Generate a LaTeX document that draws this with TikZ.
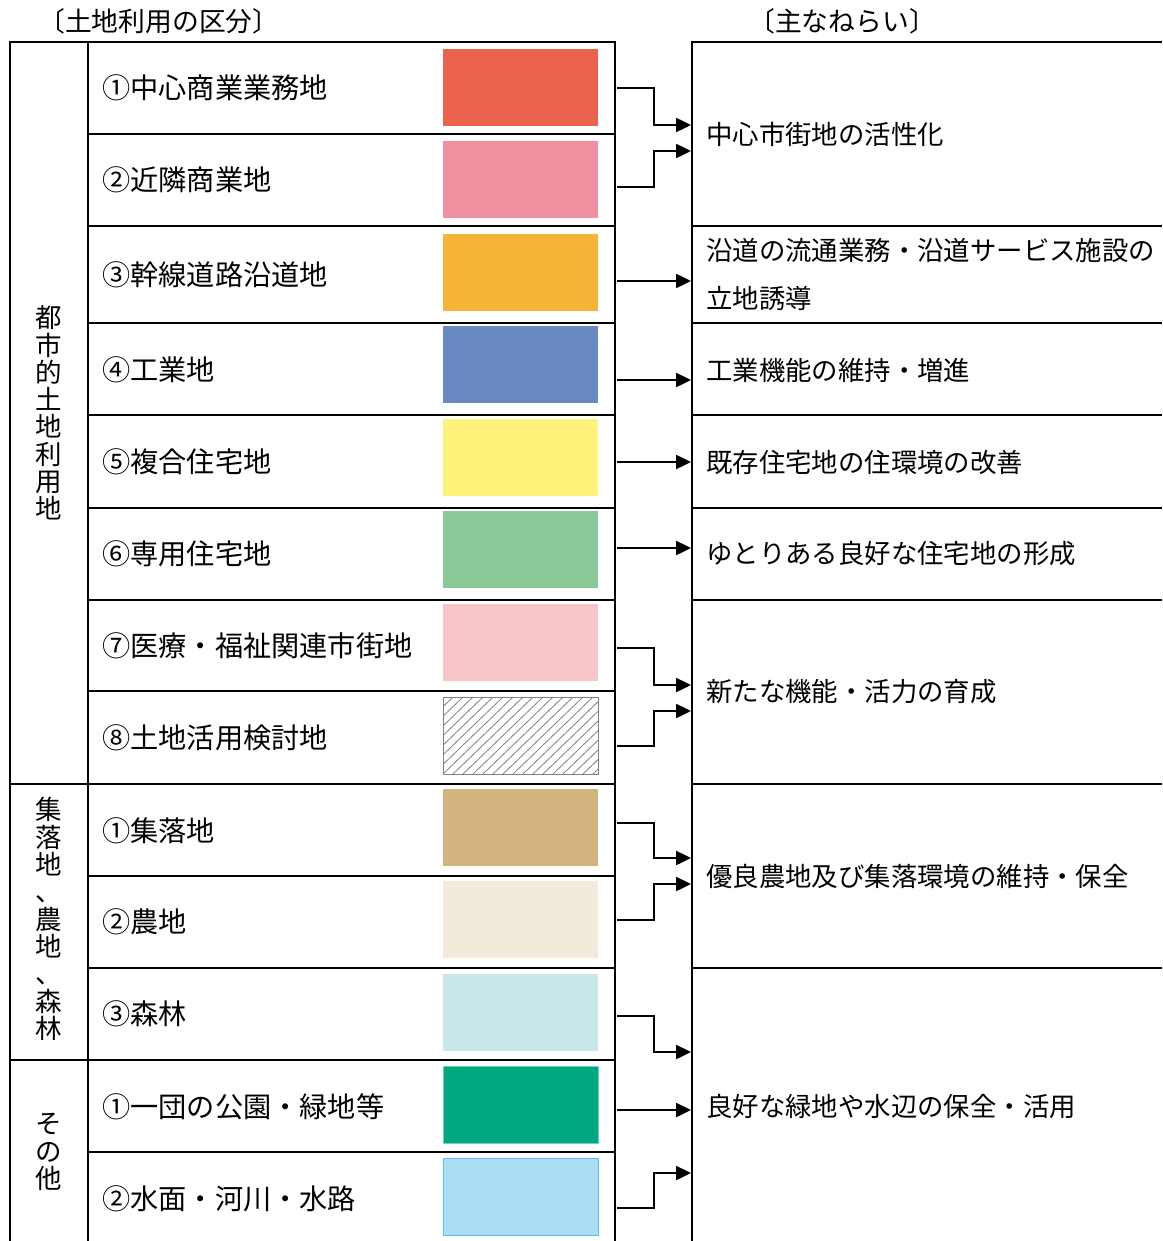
\documentclass[tikz,border=0pt]{standalone}
\usepackage{fontspec}
\setmainfont{Noto Sans CJK JP}
\usetikzlibrary{arrows.meta}
\definecolor{cA}{HTML}{EC634D}
\definecolor{cB}{HTML}{EF8FA0}
\definecolor{cC}{HTML}{F7B538}
\definecolor{cD}{HTML}{688AC0}
\definecolor{cE}{HTML}{FFF27A}
\definecolor{cF}{HTML}{89C997}
\definecolor{cG}{HTML}{F7C5C8}
\definecolor{cI}{HTML}{D3B47E}
\definecolor{cJ}{HTML}{F2EADA}
\definecolor{cK}{HTML}{C8E7E8}
\definecolor{cL}{HTML}{00A880}
\definecolor{cLb}{HTML}{6FD3BC}
\definecolor{cM}{HTML}{ABDDF5}
\definecolor{cMb}{HTML}{5BC0EB}
\newcommand\myL{\fontsize{28.2}{33}\selectfont}
\newcommand\myR{\fontsize{26.4}{48}\selectfont}
\newcommand\myH{\fontsize{26.8}{30}\selectfont}
\newcommand\myV{\fontsize{26.5}{27.3}\selectfont}
\tikzset{
  tline/.style={line width=2.2pt, black},
  item/.style={anchor=west, inner sep=0pt, font=\myL},
  aim/.style={anchor=west, inner sep=0pt, font=\myR, align=left},
  vlab/.style={inner sep=0pt, font=\myV, align=center},
  head/.style={inner sep=0pt, font=\myH},
  swatch/.style={minimum width=155pt, minimum height=77pt, inner sep=0pt, draw=none},
  arr/.style={line width=2.4pt, -{Triangle[length=15pt,width=14pt]}},
}
\begin{document}
\begin{tikzpicture}[x=1pt,y=-1pt]
\useasboundingbox[fill=white] (0,0) rectangle (1162,1241);
% headers
\node[head, anchor=west] (h1) at (38,21) {〔土地利用の区分〕};
\node[head, anchor=west] (h2) at (748,21) {〔主なねらい〕};
% left table frame
\draw[tline] (10,1241) -- (10,42) -- (615,42) -- (615,1241);
\draw[tline] (88,42) -- (88,1241);
\foreach \yy in {134,226,323,415,508,600,691,876,968,1152}
  \draw[tline] (88,\yy) -- (615,\yy);
\draw[tline] (10,784) -- (615,784);
\draw[tline] (10,1060) -- (615,1060);
% right table frame
\draw[tline] (692,1241) -- (692,42) -- (1162,42);
\foreach \yy in {226,323,415,508,600,784,968}
  \draw[tline] (692,\yy) -- (1162,\yy);
% vertical labels
\node[vlab] (v1) at (49,413) {都\\市\\的\\土\\地\\利\\用\\地};
\node[vlab] (v2) at (49,919) {集\\落\\地\\、\\農\\地\\、\\森\\林};
\node[vlab] (v3) at (49,1152) {そ\\の\\他};
% items
\node[item] (i1) at (102,88) {①中心商業業務地};
\node[item] (i2) at (102,180) {②近隣商業地};
\node[item] (i3) at (102,275) {③幹線道路沿道地};
\node[item] (i4) at (102,370) {④工業地};
\node[item] (i5) at (102,462) {⑤複合住宅地};
\node[item] (i6) at (102,554) {⑥専用住宅地};
\node[item] (i7) at (102,646) {⑦医療・福祉関連市街地};
\node[item] (i8) at (102,738) {⑧土地活用検討地};
\node[item] (i9) at (102,831) {①集落地};
\node[item] (i10) at (102,922) {②農地};
\node[item] (i11) at (102,1014) {③森林};
\node[item] (i12) at (102,1107) {①一団の公園・緑地等};
\node[item] (i13) at (102,1199) {②水面・河川・水路};
% swatches
\node[swatch, fill=cA] (w1) at (520.5,87.5) {};
\node[swatch, fill=cB] (w2) at (520.5,179.5) {};
\node[swatch, fill=cC] (w3) at (520.5,272.5) {};
\node[swatch, fill=cD] (w4) at (520.5,364.5) {};
\node[swatch, fill=cE] (w5) at (520.5,457.5) {};
\node[swatch, fill=cF] (w6) at (520.5,549.5) {};
\node[swatch, fill=cG] (w7) at (520.5,642.5) {};
\node[swatch, fill=cI] (w9) at (520.5,827.5) {};
\node[swatch, fill=cJ] (w10) at (520.5,919.5) {};
\node[swatch, fill=cK] (w11) at (520.5,1012.5) {};
\node[swatch, fill=cL, draw=cLb, line width=0.8pt] (w12) at (520.5,1104.5) {};
\node[swatch, fill=cM, draw=cMb, line width=0.8pt] (w13) at (520.5,1197) {};
% hatched swatch
\begin{scope}
\clip (443,697) rectangle (598,774);
\foreach \i in {0,10,...,250}
  \draw[gray, line width=0.8pt] (443-80+\i,774) -- (443+\i,697);
\end{scope}
\node[swatch, draw=gray, line width=1pt] (w8) at (520.5,735.5) {};
% aims
\node[aim] (a1) at (706,134) {中心市街地の活性化};
\node[aim] (a2) at (706,274) {沿道の流通業務・沿道サービス施設の\\立地誘導};
\node[aim] (a3) at (706,370) {工業機能の維持・増進};
\node[aim] (a4) at (706,462) {既存住宅地の住環境の改善};
\node[aim] (a5) at (706,554) {ゆとりある良好な住宅地の形成};
\node[aim] (a6) at (706,692) {新たな機能・活力の育成};
\node[aim] (a7) at (706,876) {優良農地及び集落環境の維持・保全};
\node[aim] (a8) at (706,1106) {良好な緑地や水辺の保全・活用};
% connectors
\coordinate (m) at (654,0);
\coordinate (s1) at (617,88);   \coordinate (t1) at (691,125);
\coordinate (s2) at (617,187);  \coordinate (t2) at (691,151);
\coordinate (s3) at (617,281);  \coordinate (t3) at (691,281);
\coordinate (s4) at (617,380);  \coordinate (t4) at (691,380);
\coordinate (s5) at (617,462);  \coordinate (t5) at (691,462);
\coordinate (s6) at (617,548);  \coordinate (t6) at (691,548);
\coordinate (s7) at (617,648);  \coordinate (t7) at (691,685);
\coordinate (s8) at (617,746);  \coordinate (t8) at (691,711);
\coordinate (s9) at (617,823);  \coordinate (t9) at (691,858);
\coordinate (s10) at (617,920); \coordinate (t10) at (691,884);
\coordinate (s11) at (617,1016); \coordinate (t11) at (691,1052);
\coordinate (s12) at (617,1110); \coordinate (t12) at (691,1110);
\coordinate (s13) at (617,1208); \coordinate (t13) at (691,1173);
\foreach \k in {1,2,7,8,9,10,11,13}
  \draw[arr] (s\k) -- (s\k -| m) |- (t\k);
\foreach \k in {3,4,5,6,12}
  \draw[arr] (s\k) -- (t\k);
\end{tikzpicture}
\end{document}
